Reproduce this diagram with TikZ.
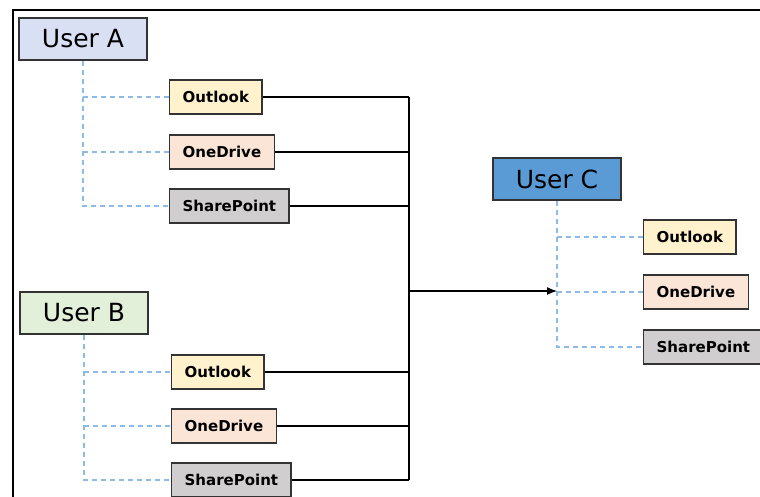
\documentclass[tikz,border=0pt]{standalone}
\usepackage{fontspec}
\setmainfont{DejaVu Sans}
\newfontfamily\userfont{DejaVu Sans}
\usetikzlibrary{arrows.meta, math}

\definecolor{userAfill}{HTML}{DAE0F4}
\definecolor{userBfill}{HTML}{E2F0D9}
\definecolor{userCfill}{HTML}{5B9BD5}
\definecolor{outlookfill}{HTML}{FFF2CC}
\definecolor{onedrivefill}{HTML}{FBE5D6}
\definecolor{sharepointfill}{HTML}{D0CECE}
\definecolor{treeblue}{HTML}{8EBAE6}

\begin{document}
\begin{tikzpicture}[x=1pt, y=-1pt,
  user/.style={draw=black!80, line width=1.3pt, minimum width=128pt,
    minimum height=42pt, font=\userfont\fontsize{25}{28}\selectfont},
  app/.style={draw=black!80, line width=1.3pt, anchor=west,
    minimum height=34pt, inner xsep=13pt,
    font=\bfseries\fontsize{15}{18}\selectfont},
  tree/.style={treeblue, dash pattern=on 5pt off 4pt, line width=1.3pt},
  wire/.style={line width=1.2pt}]
\tikzmath{
\busx=409;
}
\useasboundingbox (0,0) rectangle (760,497);

% frame
\draw[line width=2.5pt] (13,497) -- (13,10) -- (760,10);

\node[user, fill=userAfill] (userA) at (83,39) {User A};
\node[user, fill=userBfill] (userB) at (84,313) {User B};
\node[user, fill=userCfill] (userC) at (557,179) {User C};

\foreach \u/\x/\ya/\yb/\yc in {A/169/97/152/206, B/171/372/426/480, C/643/237/292/347}{
\node[app, fill=outlookfill] (\u out) at (\x,\ya) {Outlook};
\node[app, fill=onedrivefill] (\u one) at (\x,\yb) {OneDrive};
\node[app, fill=sharepointfill] (\u sp) at (\x,\yc) {SharePoint};

\draw[tree] (user\u.south) |- (\u sp.west);
\draw[tree] (user\u.south |- \u out.west) -- (\u out.west);
\draw[tree] (user\u.south |- \u one.west) -- (\u one.west);
}

\coordinate (bus) at (\busx,291);

\foreach \a in {Aout, Aone, Asp, Bout, Bone, Bsp}{
\draw[wire] (\a.east) -- (\a.east -| bus);
}
\draw[wire] (Aout.east -| bus) -- (Bsp.east -| bus);
\draw[wire, -{Latex[length=10pt, width=8pt]}] (bus) -- (userC.south |- bus);

\end{tikzpicture}
\end{document}
